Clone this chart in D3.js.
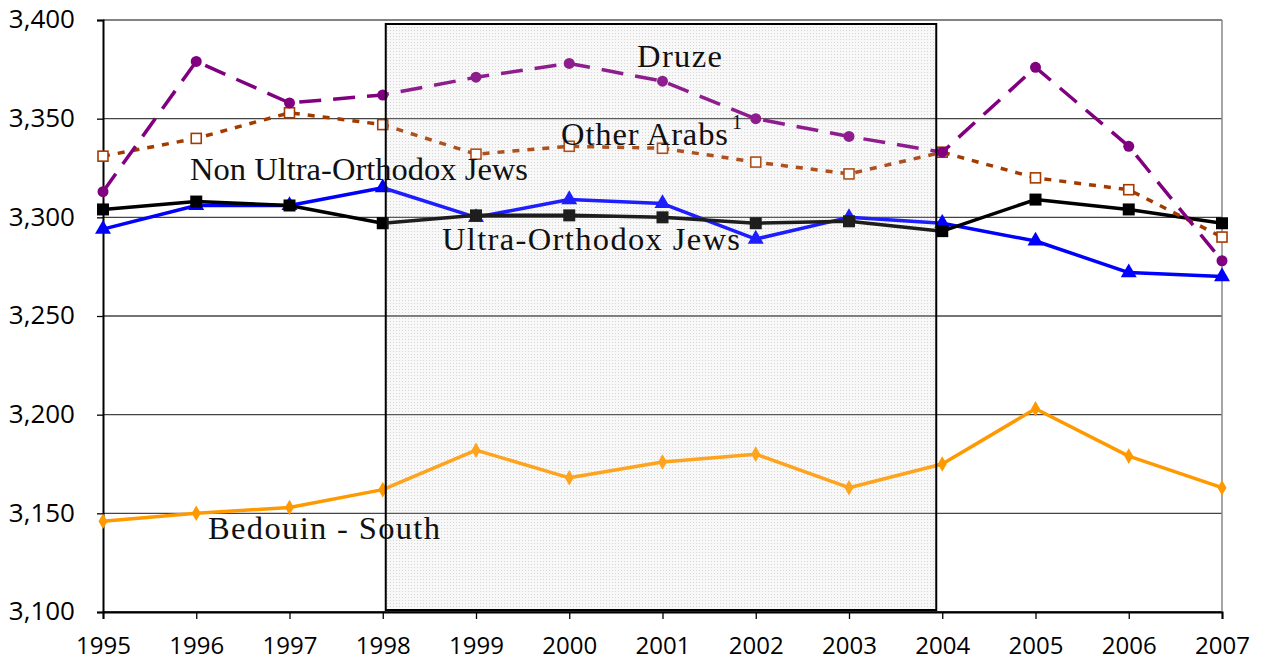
<!DOCTYPE html>
<html><head><meta charset="utf-8">
<script src="https://cdn.jsdelivr.net/npm/d3@7"></script>
<style>body{margin:0;background:#fff}svg{display:block}</style>
</head><body>
<svg id="c" width="1266" height="665"></svg>
<script>
const years = [1995,1996,1997,1998,1999,2000,2001,2002,2003,2004,2005,2006,2007];
const yTicks = [3100,3150,3200,3250,3300,3350,3400];
const druze = [3313,3379,3358,3362,3371,3378,3369,3350,3341,3333,3376,3336,3278];
const otherArabs = [3331,3340,3353,3347,3332,3336,3335,3328,3322,3333,3320,3314,3290];
const nonUltraOrthodox = [3304,3308,3306,3297,3301,3301,3300,3297,3298,3293,3309,3304,3297];
const ultraOrthodox = [3294,3306,3306,3315,3300,3309,3307,3289,3300,3297,3288,3272,3270];
const bedouinSouth = [3146,3150,3153,3162,3182,3168,3176,3180,3163,3175,3203,3179,3163];
const shadedRange = [1998, 2004];

const svg = d3.select("#c");
const L=103, R=1222, T=20, B=612;
const x = d3.scaleLinear().domain([1995,2007]).range([L,R]);
const y = d3.scaleLinear().domain([3100,3400]).range([B,T]);

const defs = svg.append("defs");
const pat = defs.append("pattern").attr("id","dots").attr("width",3).attr("height",3).attr("patternUnits","userSpaceOnUse");
pat.append("rect").attr("width",3).attr("height",3).attr("fill","#f8f8f8");
pat.append("rect").attr("x",0).attr("y",0).attr("width",1).attr("height",1).attr("fill","#d6d6d6");

svg.append("g").selectAll("line").data(yTicks).join("line")
  .attr("x1",L).attr("x2",R).attr("y1",d=>y(d)).attr("y2",d=>y(d))
  .attr("stroke",d=>d===3100?"#000":"#444").attr("stroke-width",1.3);
svg.append("line").attr("x1",R).attr("x2",R).attr("y1",T).attr("y2",B).attr("stroke","#888").attr("stroke-width",1.5);
svg.append("line").attr("x1",L).attr("x2",R).attr("y1",T).attr("y2",T).attr("stroke","#888").attr("stroke-width",1.5);

const bx0 = x(shadedRange[0])+3, bx1 = x(shadedRange[1])-6;
svg.append("rect").attr("x",bx0).attr("y",T+4).attr("width",bx1-bx0).attr("height",B-T-6)
  .attr("fill","url(#dots)");
svg.append("g").selectAll("line").data(yTicks.slice(1,-1)).join("line")
  .attr("x1",bx0).attr("x2",bx1).attr("y1",d=>y(d)).attr("y2",d=>y(d))
  .attr("stroke","#444").attr("stroke-width",1.3);

const tickFont = "'Open Sans', 'DejaVu Sans', sans-serif";
const yAxis = svg.append("g").attr("transform",`translate(${L},0)`)
  .call(d3.axisLeft(y).tickValues(yTicks).tickFormat(d3.format(",")).tickSize(6).tickPadding(22));
yAxis.select(".domain").attr("stroke","#000").attr("stroke-width",2);
yAxis.selectAll(".tick line").attr("stroke","#000").attr("stroke-width",1.3);
yAxis.selectAll("text").attr("font-family",tickFont).attr("font-size",26).attr("fill","#000").attr("dy","0.3em");
const xAxis = svg.append("g").attr("transform",`translate(0,${B})`)
  .call(d3.axisBottom(x).tickValues(years).tickFormat(d3.format("d")).tickSize(7).tickPadding(24));
xAxis.select(".domain").attr("stroke","#000").attr("stroke-width",2);
xAxis.selectAll(".tick line").attr("stroke","#000").attr("stroke-width",1.3);
xAxis.selectAll("text").attr("font-family",tickFont).attr("font-size",24).attr("fill","#000").attr("dy","0.45em");

const line = d3.line().x((d,i)=>x(years[i])).y(d=>y(d));
function series(data,color,width,dash){
  svg.append("path").datum(data).attr("d",line).attr("fill","none")
    .attr("stroke",color).attr("stroke-width",width).attr("stroke-dasharray",dash||null)
    .attr("stroke-linejoin","round");
  return svg.append("g").selectAll("g").data(data).join("g")
    .attr("transform",(d,i)=>`translate(${x(years[i])},${y(d)})`);
}
series(bedouinSouth,"#ff9900",3.5).append("path").attr("d",d3.symbol(d3.symbolDiamond,70)).attr("fill","#ff9900");
series(ultraOrthodox,"#0000ff",3.5).append("path").attr("d",d3.symbol(d3.symbolTriangle,110)).attr("fill","#0000ff");
series(nonUltraOrthodox,"#000",3.5).append("rect").attr("x",-6).attr("y",-6).attr("width",12).attr("height",12).attr("fill","#000");
series(otherArabs,"#a33a00",3.5,"7,8").append("rect").attr("x",-5).attr("y",-5).attr("width",10).attr("height",10).attr("fill","#fff").attr("stroke","#a33a00").attr("stroke-width",1.6);
series(druze,"#800080",3.5,"22,12").append("circle").attr("r",5.5).attr("fill","#800080");

svg.append("rect").attr("x",bx0).attr("y",T+4).attr("width",bx1-bx0).attr("height",B-T-6)
  .attr("fill","url(#dots)").attr("opacity",0.12);
svg.append("rect").attr("x",bx0).attr("y",T+4).attr("width",bx1-bx0).attr("height",B-T-6)
  .attr("fill","none").attr("stroke","#000").attr("stroke-width",2);

const labels = [
  {t:"Druze", x:637, y:67, w:85},
  {t:"Other Arabs", x:561, y:145, w:167, sup:"1"},
  {t:"Non Ultra-Orthodox Jews", x:190, y:180, w:338},
  {t:"Ultra-Orthodox Jews", x:442, y:250, w:298},
  {t:"Bedouin - South", x:208, y:539, w:232}
];
labels.forEach(l=>{
  const tx = svg.append("text").attr("x",l.x).attr("y",l.y)
    .attr("font-family","'Liberation Serif', serif").attr("font-size",32.5).attr("fill","#111");
  tx.append("tspan").attr("textLength",l.w).attr("lengthAdjust","spacing").text(l.t);
  if(l.sup) tx.append("tspan").attr("font-size",20).attr("dy",-16).attr("dx",3).text(l.sup);
});
</script>
</body></html>
